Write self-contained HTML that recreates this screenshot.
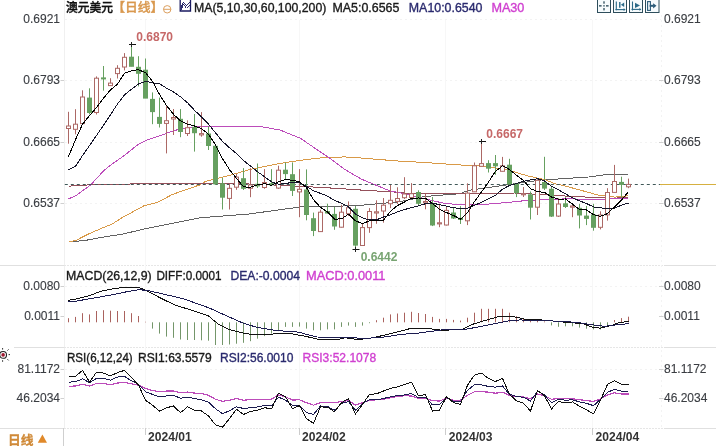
<!DOCTYPE html>
<html><head><meta charset="utf-8">
<style>
html,body{margin:0;padding:0;background:#fff;width:716px;height:446px;overflow:hidden}
svg{display:block}
polyline{shape-rendering:crispEdges}
text{font-family:"Liberation Sans", "Noto Sans CJK SC", sans-serif}
</style></head><body>
<svg width="716" height="446" viewBox="0 0 716 446">
<rect width="716" height="446" fill="#fff"/>
<!-- frame lines -->
<g stroke="#f0f0f0" stroke-width="1" fill="none">
<line x1="64.5" y1="0" x2="64.5" y2="428"/>
</g>
<g stroke="#e0e0e0" stroke-width="1" fill="none">
<line x1="0" y1="265.5" x2="64" y2="265.5"/>
<line x1="14" y1="347.5" x2="64" y2="347.5"/>
<line x1="0" y1="428.5" x2="64" y2="428.5"/>
<line x1="63.5" y1="428" x2="63.5" y2="446" stroke="#cfcfcf"/>
<line x1="664" y1="265.5" x2="716" y2="265.5"/>
<line x1="664" y1="347.5" x2="716" y2="347.5"/>
<line x1="664" y1="428.5" x2="716" y2="428.5"/>
</g>
<g stroke="#e6e6e6" stroke-width="1" fill="none" stroke-dasharray="2,1">
<line x1="64" y1="265.5" x2="664" y2="265.5"/>
<line x1="64" y1="347.5" x2="664" y2="347.5"/>
<line x1="64" y1="428.5" x2="664" y2="428.5"/>
</g>
<g stroke="#f3f3f3" stroke-width="1" fill="none" stroke-dasharray="2,3">
<line x1="661.5" y1="15" x2="661.5" y2="428"/>
<line x1="65" y1="19.5" x2="661" y2="19.5"/>
<line x1="65" y1="80.5" x2="661" y2="80.5"/>
<line x1="65" y1="142.5" x2="661" y2="142.5"/>
<line x1="65" y1="203.5" x2="661" y2="203.5"/>
<line x1="65" y1="286.5" x2="661" y2="286.5"/>
<line x1="65" y1="369.5" x2="661" y2="369.5"/>
</g>
<g stroke="#f7f7f7" stroke-width="1">
<line x1="145.5" y1="20" x2="145.5" y2="428"/>
<line x1="299.5" y1="20" x2="299.5" y2="428"/>
<line x1="445.5" y1="20" x2="445.5" y2="428"/>
<line x1="592.5" y1="20" x2="592.5" y2="428"/>
</g>
<g stroke="#d0d0d0" stroke-width="1">
<line x1="60.5" y1="80.5" x2="64" y2="80.5"/><line x1="659" y1="80.5" x2="663.5" y2="80.5"/>
<line x1="60.5" y1="142.5" x2="64" y2="142.5"/><line x1="659" y1="142.5" x2="663.5" y2="142.5"/>
<line x1="60.5" y1="203.5" x2="64" y2="203.5"/><line x1="659" y1="203.5" x2="663.5" y2="203.5"/>
<line x1="60.5" y1="286.5" x2="64" y2="286.5"/><line x1="659" y1="286.5" x2="663.5" y2="286.5"/>
<line x1="60.5" y1="316.5" x2="64" y2="316.5"/><line x1="659" y1="316.5" x2="663.5" y2="316.5"/>
<line x1="60.5" y1="369.5" x2="64" y2="369.5"/><line x1="659" y1="369.5" x2="663.5" y2="369.5"/>
<line x1="60.5" y1="398.5" x2="64" y2="398.5"/><line x1="659" y1="398.5" x2="663.5" y2="398.5"/>
</g>
<!-- main MAs -->
<polyline points="68.7,241.7 84.4,240.6 97.9,238.1 111.3,235.8 122.0,234.3 144.0,229.0 200.0,217.8 250.0,213.9 265.0,211.8 300.0,207.0 356.8,205.7 400.0,201.7 424.6,196.5 460.0,193.7 468.4,190.4 515.0,183.7 543.0,179.8 555.0,179.2 588.6,177.0 604.5,174.8 628.5,174.4" fill="none" stroke="#626262" stroke-width="1"/>
<polyline points="68.7,241.7 75.5,240.6 88.9,233.8 102.4,228.0 112.2,224.0 122.0,217.7 144.0,205.8 158.0,202.2 172.0,194.6 200.0,184.8 205.0,181.6 227.4,176.0 250.0,169.5 260.0,167.4 280.2,163.4 300.3,160.3 320.5,157.9 344.7,156.9 364.9,158.3 389.1,160.3 400.0,161.2 422.4,162.3 455.0,164.7 477.4,165.8 505.0,169.1 527.4,175.8 545.3,179.8 555.0,183.7 565.0,186.0 577.4,189.3 599.8,195.5 615.0,197.1 628.5,195.8" fill="none" stroke="#d99a48" stroke-width="1"/>
<polyline points="68.5,186.2 78.7,185.4 99.6,184.4 128.0,184.3 135.0,183.4 200.0,183.3 230.0,183.5 260.0,184.3 306.4,186.6 340.7,188.6 368.9,190.6 389.1,191.6 410.0,193.4 460.0,193.7 515.0,193.0 540.0,194.5 565.0,196.0 595.0,197.5 615.0,198.2 628.5,197.0" fill="none" stroke="#94505a" stroke-width="1"/>
<polyline points="68.5,198.8 75.4,196.0 90.8,184.8 103.5,171.0 110.4,165.2 124.4,155.4 138.4,144.2 146.8,140.0 162.0,135.0 174.5,130.4 187.3,127.9 198.0,126.4 215.0,126.2 240.0,126.3 260.0,126.4 280.2,130.1 300.3,138.2 316.5,149.3 330.6,158.7 344.7,169.4 360.9,178.9 377.0,185.6 389.1,190.6 401.5,193.1 422.4,198.1 433.6,201.0 444.8,203.3 460.0,204.8 477.4,205.0 505.0,202.7 527.4,200.4 565.0,198.9 595.0,199.2 628.5,198.7" fill="none" stroke="#bc4cba" stroke-width="1"/>
<line x1="64.8" y1="184.5" x2="661" y2="184.5" stroke="#405858" stroke-width="1" stroke-dasharray="3,3"/>
<line x1="660" y1="184.5" x2="716" y2="184.5" stroke="#d6b040" stroke-width="1.2"/>
<line x1="68.5" y1="111.8" x2="68.5" y2="143.7" stroke="#ac6865" stroke-width="1"/>
<rect x="66.5" y="126.0" width="4" height="2.5" fill="#fff" stroke="#ac6865" stroke-width="1"/>
<line x1="75.5" y1="109.2" x2="75.5" y2="134.3" stroke="#ac6865" stroke-width="1"/>
<rect x="73.5" y="124.2" width="4" height="5.1" fill="#fff" stroke="#ac6865" stroke-width="1"/>
<line x1="82.5" y1="90.3" x2="82.5" y2="123.6" stroke="#ac6865" stroke-width="1"/>
<rect x="80.5" y="97.0" width="4" height="26.6" fill="#fff" stroke="#ac6865" stroke-width="1"/>
<line x1="89.5" y1="88.3" x2="89.5" y2="114.3" stroke="#66a060" stroke-width="1"/>
<rect x="87" y="97.6" width="5" height="15.4" fill="#66a060"/>
<line x1="96.5" y1="76.4" x2="96.5" y2="114.5" stroke="#ac6865" stroke-width="1"/>
<rect x="94.5" y="78.2" width="4" height="34.3" fill="#fff" stroke="#ac6865" stroke-width="1"/>
<line x1="103.5" y1="66.0" x2="103.5" y2="90.7" stroke="#66a060" stroke-width="1"/>
<rect x="101" y="77.4" width="5" height="2.0" fill="#66a060"/>
<line x1="110.5" y1="78.2" x2="110.5" y2="85.6" stroke="#ac6865" stroke-width="1"/>
<rect x="108.5" y="83.1" width="4" height="2.5" fill="#fff" stroke="#ac6865" stroke-width="1"/>
<line x1="117.5" y1="65.2" x2="117.5" y2="78.5" stroke="#ac6865" stroke-width="1"/>
<rect x="115.5" y="68.3" width="4" height="5.3" fill="#fff" stroke="#ac6865" stroke-width="1"/>
<line x1="124.5" y1="53.1" x2="124.5" y2="70.4" stroke="#ac6865" stroke-width="1"/>
<rect x="122.5" y="57.3" width="4" height="9.7" fill="#fff" stroke="#ac6865" stroke-width="1"/>
<line x1="131.5" y1="44.4" x2="131.5" y2="66.3" stroke="#66a060" stroke-width="1"/>
<rect x="129" y="56.7" width="5" height="10.1" fill="#66a060"/>
<line x1="138.5" y1="56.2" x2="138.5" y2="86.4" stroke="#66a060" stroke-width="1"/>
<rect x="136" y="66.8" width="5" height="7.0" fill="#66a060"/>
<line x1="145.5" y1="58.5" x2="145.5" y2="98.1" stroke="#66a060" stroke-width="1"/>
<rect x="143" y="69.7" width="5" height="28.9" fill="#66a060"/>
<line x1="152.5" y1="92.4" x2="152.5" y2="124.2" stroke="#66a060" stroke-width="1"/>
<rect x="150" y="98.9" width="5" height="13.2" fill="#66a060"/>
<line x1="159.5" y1="97.6" x2="159.5" y2="127.5" stroke="#66a060" stroke-width="1"/>
<rect x="157" y="116.9" width="5" height="7.0" fill="#66a060"/>
<line x1="166.5" y1="106.0" x2="166.5" y2="153.4" stroke="#ac6865" stroke-width="1"/>
<rect x="164.5" y="120.7" width="4" height="2.7" fill="#fff" stroke="#ac6865" stroke-width="1"/>
<line x1="173.5" y1="109.0" x2="173.5" y2="135.0" stroke="#ac6865" stroke-width="1"/>
<rect x="171.5" y="117.5" width="4" height="1.5" fill="#fff" stroke="#ac6865" stroke-width="1"/>
<line x1="180.5" y1="109.0" x2="180.5" y2="137.2" stroke="#66a060" stroke-width="1"/>
<rect x="178" y="118.8" width="5" height="13.2" fill="#66a060"/>
<line x1="187.5" y1="120.3" x2="187.5" y2="136.0" stroke="#ac6865" stroke-width="1"/>
<rect x="185.5" y="127.7" width="4" height="5.8" fill="#fff" stroke="#ac6865" stroke-width="1"/>
<line x1="194.5" y1="114.0" x2="194.5" y2="151.6" stroke="#66a060" stroke-width="1"/>
<rect x="192" y="126.8" width="5" height="6.4" fill="#66a060"/>
<line x1="201.5" y1="112.1" x2="201.5" y2="136.7" stroke="#ac6865" stroke-width="1"/>
<rect x="199.5" y="133.6" width="4" height="1.3" fill="#fff" stroke="#ac6865" stroke-width="1"/>
<line x1="208.5" y1="126.4" x2="208.5" y2="150.0" stroke="#66a060" stroke-width="1"/>
<rect x="206" y="133.5" width="5" height="12.5" fill="#66a060"/>
<line x1="215.5" y1="145.0" x2="215.5" y2="185.0" stroke="#66a060" stroke-width="1"/>
<rect x="213" y="145.8" width="5" height="38.5" fill="#66a060"/>
<line x1="222.5" y1="177.8" x2="222.5" y2="209.5" stroke="#66a060" stroke-width="1"/>
<rect x="220" y="183.3" width="5" height="14.4" fill="#66a060"/>
<line x1="229.5" y1="183.8" x2="229.5" y2="209.5" stroke="#ac6865" stroke-width="1"/>
<rect x="227.5" y="188.3" width="4" height="10.1" fill="#fff" stroke="#ac6865" stroke-width="1"/>
<line x1="236.5" y1="173.7" x2="236.5" y2="189.8" stroke="#ac6865" stroke-width="1"/>
<rect x="234.5" y="177.1" width="4" height="10.1" fill="#fff" stroke="#ac6865" stroke-width="1"/>
<line x1="243.5" y1="168.1" x2="243.5" y2="190.0" stroke="#66a060" stroke-width="1"/>
<rect x="241" y="178.2" width="5" height="10.6" fill="#66a060"/>
<line x1="250.5" y1="168.1" x2="250.5" y2="197.2" stroke="#ac6865" stroke-width="1"/>
<rect x="248.5" y="184.9" width="4" height="3.4" fill="#fff" stroke="#ac6865" stroke-width="1"/>
<line x1="257.5" y1="163.5" x2="257.5" y2="188.0" stroke="#66a060" stroke-width="1"/>
<rect x="255" y="183.8" width="5" height="2.6" fill="#66a060"/>
<line x1="264.5" y1="169.1" x2="264.5" y2="188.8" stroke="#ac6865" stroke-width="1"/>
<rect x="262.5" y="182.5" width="4" height="5.0" fill="#fff" stroke="#ac6865" stroke-width="1"/>
<line x1="271.5" y1="169.1" x2="271.5" y2="186.0" stroke="#66a060" stroke-width="1"/>
<rect x="269" y="183.2" width="5" height="2.1" fill="#66a060"/>
<line x1="278.5" y1="165.7" x2="278.5" y2="189.0" stroke="#ac6865" stroke-width="1"/>
<rect x="276.5" y="170.2" width="4" height="17.9" fill="#fff" stroke="#ac6865" stroke-width="1"/>
<line x1="285.5" y1="162.4" x2="285.5" y2="179.2" stroke="#66a060" stroke-width="1"/>
<rect x="283" y="169.7" width="5" height="4.4" fill="#66a060"/>
<line x1="292.5" y1="162.4" x2="292.5" y2="196.0" stroke="#66a060" stroke-width="1"/>
<rect x="290" y="174.2" width="5" height="16.7" fill="#66a060"/>
<line x1="299.5" y1="169.1" x2="299.5" y2="217.2" stroke="#ac6865" stroke-width="1"/>
<rect x="297.5" y="189.3" width="4" height="2.6" fill="#fff" stroke="#ac6865" stroke-width="1"/>
<line x1="306.5" y1="169.4" x2="306.5" y2="220.3" stroke="#66a060" stroke-width="1"/>
<rect x="304" y="189.5" width="5" height="25.5" fill="#66a060"/>
<line x1="313.5" y1="212.6" x2="313.5" y2="236.1" stroke="#66a060" stroke-width="1"/>
<rect x="311" y="218.2" width="5" height="12.8" fill="#66a060"/>
<line x1="320.5" y1="209.7" x2="320.5" y2="232.0" stroke="#ac6865" stroke-width="1"/>
<rect x="318.5" y="212.2" width="4" height="19.4" fill="#fff" stroke="#ac6865" stroke-width="1"/>
<line x1="327.5" y1="203.7" x2="327.5" y2="213.5" stroke="#66a060" stroke-width="1"/>
<rect x="325" y="211.0" width="5" height="2.5" fill="#66a060"/>
<line x1="334.5" y1="207.0" x2="334.5" y2="229.8" stroke="#66a060" stroke-width="1"/>
<rect x="332" y="213.9" width="5" height="12.6" fill="#66a060"/>
<line x1="341.5" y1="204.8" x2="341.5" y2="227.5" stroke="#ac6865" stroke-width="1"/>
<rect x="339.5" y="212.2" width="4" height="15.0" fill="#fff" stroke="#ac6865" stroke-width="1"/>
<line x1="348.5" y1="201.4" x2="348.5" y2="216.0" stroke="#ac6865" stroke-width="1"/>
<rect x="346.5" y="207.7" width="4" height="6.0" fill="#fff" stroke="#ac6865" stroke-width="1"/>
<line x1="355.5" y1="206.0" x2="355.5" y2="249.1" stroke="#66a060" stroke-width="1"/>
<rect x="353" y="208.8" width="5" height="36.8" fill="#66a060"/>
<line x1="362.5" y1="223.8" x2="362.5" y2="246.0" stroke="#ac6865" stroke-width="1"/>
<rect x="360.5" y="227.6" width="4" height="17.9" fill="#fff" stroke="#ac6865" stroke-width="1"/>
<line x1="369.5" y1="208.1" x2="369.5" y2="232.8" stroke="#ac6865" stroke-width="1"/>
<rect x="367.5" y="211.5" width="4" height="16.1" fill="#fff" stroke="#ac6865" stroke-width="1"/>
<line x1="376.5" y1="200.3" x2="376.5" y2="223.8" stroke="#ac6865" stroke-width="1"/>
<rect x="374.5" y="211.8" width="4" height="1.2" fill="#fff" stroke="#ac6865" stroke-width="1"/>
<line x1="383.5" y1="198.0" x2="383.5" y2="222.7" stroke="#ac6865" stroke-width="1"/>
<rect x="381.5" y="205.2" width="4" height="5.8" fill="#fff" stroke="#ac6865" stroke-width="1"/>
<line x1="390.5" y1="185.0" x2="390.5" y2="208.1" stroke="#ac6865" stroke-width="1"/>
<rect x="388.5" y="200.3" width="4" height="3.4" fill="#fff" stroke="#ac6865" stroke-width="1"/>
<line x1="397.5" y1="187.3" x2="397.5" y2="204.0" stroke="#ac6865" stroke-width="1"/>
<rect x="395.5" y="198.5" width="4" height="2.9" fill="#fff" stroke="#ac6865" stroke-width="1"/>
<line x1="404.5" y1="177.2" x2="404.5" y2="199.0" stroke="#ac6865" stroke-width="1"/>
<rect x="402.5" y="194.0" width="4" height="3.7" fill="#fff" stroke="#ac6865" stroke-width="1"/>
<line x1="411.5" y1="183.1" x2="411.5" y2="198.0" stroke="#ac6865" stroke-width="1"/>
<rect x="409.5" y="193.7" width="4" height="3.8" fill="#fff" stroke="#ac6865" stroke-width="1"/>
<line x1="418.5" y1="190.3" x2="418.5" y2="206.0" stroke="#66a060" stroke-width="1"/>
<rect x="416" y="192.0" width="5" height="11.8" fill="#66a060"/>
<line x1="425.5" y1="193.7" x2="425.5" y2="209.3" stroke="#ac6865" stroke-width="1"/>
<rect x="423.5" y="201.5" width="4" height="1.3" fill="#fff" stroke="#ac6865" stroke-width="1"/>
<line x1="432.5" y1="197.0" x2="432.5" y2="226.1" stroke="#66a060" stroke-width="1"/>
<rect x="430" y="203.2" width="5" height="22.3" fill="#66a060"/>
<line x1="439.5" y1="203.7" x2="439.5" y2="227.2" stroke="#ac6865" stroke-width="1"/>
<rect x="437.5" y="222.8" width="4" height="1.1" fill="#fff" stroke="#ac6865" stroke-width="1"/>
<line x1="446.5" y1="206.0" x2="446.5" y2="225.5" stroke="#ac6865" stroke-width="1"/>
<rect x="444.5" y="210.4" width="4" height="14.6" fill="#fff" stroke="#ac6865" stroke-width="1"/>
<line x1="453.5" y1="207.1" x2="453.5" y2="219.0" stroke="#66a060" stroke-width="1"/>
<rect x="451" y="212.5" width="5" height="6.0" fill="#66a060"/>
<line x1="460.5" y1="206.1" x2="460.5" y2="224.0" stroke="#66a060" stroke-width="1"/>
<rect x="458" y="217.8" width="5" height="2.2" fill="#66a060"/>
<line x1="467.5" y1="183.3" x2="467.5" y2="225.1" stroke="#ac6865" stroke-width="1"/>
<rect x="465.5" y="193.1" width="4" height="27.7" fill="#fff" stroke="#ac6865" stroke-width="1"/>
<line x1="474.5" y1="162.5" x2="474.5" y2="192.0" stroke="#ac6865" stroke-width="1"/>
<rect x="472.5" y="165.8" width="4" height="26.0" fill="#fff" stroke="#ac6865" stroke-width="1"/>
<line x1="481.5" y1="141.4" x2="481.5" y2="166.5" stroke="#ac6865" stroke-width="1"/>
<rect x="479.5" y="163.6" width="4" height="2.7" fill="#fff" stroke="#ac6865" stroke-width="1"/>
<line x1="488.5" y1="160.2" x2="488.5" y2="172.5" stroke="#66a060" stroke-width="1"/>
<rect x="486" y="163.1" width="5" height="5.6" fill="#66a060"/>
<line x1="495.5" y1="155.0" x2="495.5" y2="174.8" stroke="#66a060" stroke-width="1"/>
<rect x="493" y="163.1" width="5" height="3.2" fill="#66a060"/>
<line x1="502.5" y1="156.9" x2="502.5" y2="171.5" stroke="#ac6865" stroke-width="1"/>
<rect x="500.5" y="165.8" width="4" height="5.5" fill="#fff" stroke="#ac6865" stroke-width="1"/>
<line x1="509.5" y1="158.8" x2="509.5" y2="184.8" stroke="#66a060" stroke-width="1"/>
<rect x="507" y="164.7" width="5" height="19.8" fill="#66a060"/>
<line x1="516.5" y1="183.0" x2="516.5" y2="197.1" stroke="#66a060" stroke-width="1"/>
<rect x="514" y="183.2" width="5" height="9.9" fill="#66a060"/>
<line x1="523.5" y1="187.0" x2="523.5" y2="197.0" stroke="#ac6865" stroke-width="1"/>
<rect x="521.5" y="193.7" width="4" height="1.1" fill="#fff" stroke="#ac6865" stroke-width="1"/>
<line x1="530.5" y1="191.5" x2="530.5" y2="219.5" stroke="#66a060" stroke-width="1"/>
<rect x="528" y="194.3" width="5" height="13.4" fill="#66a060"/>
<line x1="537.5" y1="179.2" x2="537.5" y2="215.0" stroke="#ac6865" stroke-width="1"/>
<rect x="535.5" y="180.3" width="4" height="26.9" fill="#fff" stroke="#ac6865" stroke-width="1"/>
<line x1="544.5" y1="156.8" x2="544.5" y2="190.0" stroke="#66a060" stroke-width="1"/>
<rect x="542" y="182.0" width="5" height="6.6" fill="#66a060"/>
<line x1="551.5" y1="187.0" x2="551.5" y2="217.0" stroke="#66a060" stroke-width="1"/>
<rect x="549" y="188.8" width="5" height="27.8" fill="#66a060"/>
<line x1="558.5" y1="198.2" x2="558.5" y2="217.0" stroke="#ac6865" stroke-width="1"/>
<rect x="556.5" y="204.0" width="4" height="12.1" fill="#fff" stroke="#ac6865" stroke-width="1"/>
<line x1="565.5" y1="197.1" x2="565.5" y2="208.0" stroke="#66a060" stroke-width="1"/>
<rect x="563" y="203.3" width="5" height="3.7" fill="#66a060"/>
<line x1="572.5" y1="204.9" x2="572.5" y2="217.2" stroke="#ac6865" stroke-width="1"/>
<rect x="570.5" y="206.0" width="4" height="1.2" fill="#fff" stroke="#ac6865" stroke-width="1"/>
<line x1="579.5" y1="203.8" x2="579.5" y2="228.4" stroke="#66a060" stroke-width="1"/>
<rect x="577" y="207.8" width="5" height="7.7" fill="#66a060"/>
<line x1="586.5" y1="206.0" x2="586.5" y2="225.1" stroke="#66a060" stroke-width="1"/>
<rect x="584" y="215.6" width="5" height="3.3" fill="#66a060"/>
<line x1="593.5" y1="203.8" x2="593.5" y2="230.7" stroke="#66a060" stroke-width="1"/>
<rect x="591" y="214.5" width="5" height="13.3" fill="#66a060"/>
<line x1="600.5" y1="211.3" x2="600.5" y2="229.4" stroke="#ac6865" stroke-width="1"/>
<rect x="598.5" y="215.0" width="4" height="12.3" fill="#fff" stroke="#ac6865" stroke-width="1"/>
<line x1="607.5" y1="188.2" x2="607.5" y2="220.6" stroke="#ac6865" stroke-width="1"/>
<rect x="605.5" y="192.5" width="4" height="22.4" fill="#fff" stroke="#ac6865" stroke-width="1"/>
<line x1="614.5" y1="164.9" x2="614.5" y2="192.6" stroke="#ac6865" stroke-width="1"/>
<rect x="612.5" y="181.5" width="4" height="10.9" fill="#fff" stroke="#ac6865" stroke-width="1"/>
<line x1="621.5" y1="176.7" x2="621.5" y2="197.7" stroke="#66a060" stroke-width="1"/>
<rect x="619" y="181.9" width="5" height="3.0" fill="#66a060"/>
<line x1="628.5" y1="178.6" x2="628.5" y2="188.2" stroke="#ac6865" stroke-width="1"/>
<rect x="626.5" y="184.4" width="4" height="2.4" fill="#fff" stroke="#ac6865" stroke-width="1"/>
<polyline points="68.5,170.0 75.5,166.2 82.5,155.6 89.5,145.6 96.5,135.5 103.5,125.2 110.5,114.7 117.5,104.0 124.5,95.0 131.5,89.2 138.5,83.9 145.5,81.3 152.5,82.7 159.5,83.8 166.5,88.1 173.5,92.0 180.5,96.8 187.5,102.7 194.5,110.3 201.5,117.0 208.5,124.2 215.5,132.8 222.5,141.4 229.5,147.8 236.5,153.5 243.5,160.6 250.5,165.9 257.5,171.7 264.5,176.7 271.5,181.8 278.5,184.3 285.5,183.3 292.5,182.6 299.5,182.7 306.5,186.4 313.5,190.7 320.5,193.4 327.5,196.1 334.5,200.4 341.5,203.2 348.5,206.9 355.5,214.1 362.5,217.8 369.5,220.0 376.5,219.8 383.5,217.0 390.5,214.8 397.5,211.8 404.5,209.6 411.5,207.6 418.5,205.8 425.5,203.7 432.5,203.2 439.5,204.6 446.5,206.2 453.5,207.8 460.5,208.5 467.5,208.1 474.5,205.3 481.5,202.3 488.5,198.8 495.5,195.2 502.5,189.3 509.5,185.4 516.5,183.6 523.5,181.2 530.5,180.0 537.5,178.7 544.5,180.9 551.5,186.2 558.5,189.8 565.5,193.8 572.5,197.8 579.5,200.9 586.5,203.5 593.5,206.9 600.5,207.7 607.5,208.9 614.5,208.2 621.5,205.1 628.5,203.1" fill="none" stroke="#15152a" stroke-width="1"/>
<polyline points="68.5,156.6 75.5,139.6 82.5,124.3 89.5,115.6 96.5,107.6 103.5,98.1 110.5,89.9 117.5,84.1 124.5,73.1 131.5,70.7 138.5,69.7 145.5,72.7 152.5,81.3 159.5,94.5 166.5,105.4 173.5,114.3 180.5,120.9 187.5,124.2 194.5,126.0 201.5,128.6 208.5,134.2 215.5,144.7 222.5,158.6 229.5,169.7 236.5,178.4 243.5,186.9 250.5,187.2 257.5,184.9 264.5,183.7 271.5,185.3 278.5,181.7 285.5,179.4 292.5,180.3 299.5,181.7 306.5,187.6 313.5,199.7 320.5,207.4 327.5,211.9 334.5,219.2 341.5,218.8 348.5,214.2 355.5,220.8 362.5,223.7 369.5,220.8 376.5,220.7 383.5,220.2 390.5,211.3 397.5,205.5 404.5,202.0 411.5,198.3 418.5,198.0 425.5,198.2 432.5,203.5 439.5,209.3 446.5,212.6 453.5,215.5 460.5,219.1 467.5,212.8 474.5,201.4 481.5,192.0 488.5,182.0 495.5,171.3 502.5,165.8 509.5,169.5 516.5,175.3 523.5,180.4 530.5,188.7 537.5,191.6 544.5,192.4 551.5,197.1 558.5,199.1 565.5,199.0 572.5,204.1 579.5,209.5 586.5,210.0 593.5,214.6 600.5,216.3 607.5,213.6 614.5,206.9 621.5,200.1 628.5,191.6" fill="none" stroke="#000" stroke-width="1"/>
<!-- high/low markers -->
<line x1="129" y1="44.5" x2="136" y2="44.5" stroke="#111" stroke-width="1"/>
<text x="136.3" y="41" font-size="12" font-weight="bold" fill="#c66868">0.6870</text>
<line x1="131.5" y1="42" x2="131.5" y2="47" stroke="#222" stroke-width="1"/>
<line x1="479" y1="141.5" x2="486" y2="141.5" stroke="#111" stroke-width="1"/>
<text x="486.3" y="138" font-size="12" font-weight="bold" fill="#c66868">0.6667</text>
<line x1="481.5" y1="139" x2="481.5" y2="144" stroke="#222" stroke-width="1"/>
<line x1="352.5" y1="249.5" x2="359.5" y2="249.5" stroke="#111" stroke-width="1"/>
<text x="360.7" y="261" font-size="12" font-weight="bold" fill="#78a472">0.6442</text>
<line x1="355.5" y1="247" x2="355.5" y2="252" stroke="#222" stroke-width="1"/>
<!-- MACD -->
<line x1="68.5" y1="322.3" x2="68.5" y2="318.2" stroke="#aa625e" stroke-width="1"/>
<line x1="75.5" y1="322.3" x2="75.5" y2="316.9" stroke="#aa625e" stroke-width="1"/>
<line x1="82.5" y1="322.3" x2="82.5" y2="313.2" stroke="#aa625e" stroke-width="1"/>
<line x1="89.5" y1="322.3" x2="89.5" y2="314.4" stroke="#aa625e" stroke-width="1"/>
<line x1="96.5" y1="322.3" x2="96.5" y2="311.0" stroke="#aa625e" stroke-width="1"/>
<line x1="103.5" y1="322.3" x2="103.5" y2="310.2" stroke="#aa625e" stroke-width="1"/>
<line x1="110.5" y1="322.3" x2="110.5" y2="310.7" stroke="#aa625e" stroke-width="1"/>
<line x1="117.5" y1="322.3" x2="117.5" y2="311.0" stroke="#aa625e" stroke-width="1"/>
<line x1="124.5" y1="322.3" x2="124.5" y2="311.0" stroke="#aa625e" stroke-width="1"/>
<line x1="131.5" y1="322.3" x2="131.5" y2="313.2" stroke="#aa625e" stroke-width="1"/>
<line x1="138.5" y1="322.3" x2="138.5" y2="316.0" stroke="#aa625e" stroke-width="1"/>
<line x1="145.5" y1="322.3" x2="145.5" y2="321.8" stroke="#aa625e" stroke-width="1"/>
<line x1="152.5" y1="322.3" x2="152.5" y2="328.6" stroke="#74966a" stroke-width="1"/>
<line x1="159.5" y1="322.3" x2="159.5" y2="333.6" stroke="#74966a" stroke-width="1"/>
<line x1="166.5" y1="322.3" x2="166.5" y2="336.6" stroke="#74966a" stroke-width="1"/>
<line x1="173.5" y1="322.3" x2="173.5" y2="337.8" stroke="#74966a" stroke-width="1"/>
<line x1="180.5" y1="322.3" x2="180.5" y2="339.5" stroke="#74966a" stroke-width="1"/>
<line x1="187.5" y1="322.3" x2="187.5" y2="340.0" stroke="#74966a" stroke-width="1"/>
<line x1="194.5" y1="322.3" x2="194.5" y2="340.0" stroke="#74966a" stroke-width="1"/>
<line x1="201.5" y1="322.3" x2="201.5" y2="340.3" stroke="#74966a" stroke-width="1"/>
<line x1="208.5" y1="322.3" x2="208.5" y2="340.7" stroke="#74966a" stroke-width="1"/>
<line x1="215.5" y1="322.3" x2="215.5" y2="345" stroke="#74966a" stroke-width="1"/>
<line x1="222.5" y1="322.3" x2="222.5" y2="345" stroke="#74966a" stroke-width="1"/>
<line x1="229.5" y1="322.3" x2="229.5" y2="344.5" stroke="#74966a" stroke-width="1"/>
<line x1="236.5" y1="322.3" x2="236.5" y2="343.7" stroke="#74966a" stroke-width="1"/>
<line x1="243.5" y1="322.3" x2="243.5" y2="342.8" stroke="#74966a" stroke-width="1"/>
<line x1="250.5" y1="322.3" x2="250.5" y2="341.2" stroke="#74966a" stroke-width="1"/>
<line x1="257.5" y1="322.3" x2="257.5" y2="338.7" stroke="#74966a" stroke-width="1"/>
<line x1="264.5" y1="322.3" x2="264.5" y2="336.1" stroke="#74966a" stroke-width="1"/>
<line x1="271.5" y1="322.3" x2="271.5" y2="333.6" stroke="#74966a" stroke-width="1"/>
<line x1="278.5" y1="322.3" x2="278.5" y2="331.1" stroke="#74966a" stroke-width="1"/>
<line x1="285.5" y1="322.3" x2="285.5" y2="326.9" stroke="#74966a" stroke-width="1"/>
<line x1="292.5" y1="322.3" x2="292.5" y2="326.9" stroke="#74966a" stroke-width="1"/>
<line x1="299.5" y1="322.3" x2="299.5" y2="326.6" stroke="#74966a" stroke-width="1"/>
<line x1="306.5" y1="322.3" x2="306.5" y2="328.6" stroke="#74966a" stroke-width="1"/>
<line x1="313.5" y1="322.3" x2="313.5" y2="330.3" stroke="#74966a" stroke-width="1"/>
<line x1="320.5" y1="322.3" x2="320.5" y2="330.3" stroke="#74966a" stroke-width="1"/>
<line x1="327.5" y1="322.3" x2="327.5" y2="329.4" stroke="#74966a" stroke-width="1"/>
<line x1="334.5" y1="322.3" x2="334.5" y2="329.4" stroke="#74966a" stroke-width="1"/>
<line x1="341.5" y1="322.3" x2="341.5" y2="326.9" stroke="#74966a" stroke-width="1"/>
<line x1="348.5" y1="322.3" x2="348.5" y2="325.6" stroke="#74966a" stroke-width="1"/>
<line x1="355.5" y1="322.3" x2="355.5" y2="326.9" stroke="#74966a" stroke-width="1"/>
<line x1="362.5" y1="322.3" x2="362.5" y2="325.6" stroke="#74966a" stroke-width="1"/>
<line x1="369.5" y1="322.3" x2="369.5" y2="323.2" stroke="#74966a" stroke-width="1"/>
<line x1="376.5" y1="322.3" x2="376.5" y2="320.2" stroke="#aa625e" stroke-width="1"/>
<line x1="383.5" y1="322.3" x2="383.5" y2="317.7" stroke="#aa625e" stroke-width="1"/>
<line x1="390.5" y1="322.3" x2="390.5" y2="314.4" stroke="#aa625e" stroke-width="1"/>
<line x1="397.5" y1="322.3" x2="397.5" y2="313.5" stroke="#aa625e" stroke-width="1"/>
<line x1="404.5" y1="322.3" x2="404.5" y2="312.7" stroke="#aa625e" stroke-width="1"/>
<line x1="411.5" y1="322.3" x2="411.5" y2="311.8" stroke="#aa625e" stroke-width="1"/>
<line x1="418.5" y1="322.3" x2="418.5" y2="313.0" stroke="#aa625e" stroke-width="1"/>
<line x1="425.5" y1="322.3" x2="425.5" y2="314.0" stroke="#aa625e" stroke-width="1"/>
<line x1="432.5" y1="322.3" x2="432.5" y2="316.9" stroke="#aa625e" stroke-width="1"/>
<line x1="439.5" y1="322.3" x2="439.5" y2="318.9" stroke="#aa625e" stroke-width="1"/>
<line x1="446.5" y1="322.3" x2="446.5" y2="318.9" stroke="#aa625e" stroke-width="1"/>
<line x1="453.5" y1="322.3" x2="453.5" y2="319.9" stroke="#aa625e" stroke-width="1"/>
<line x1="460.5" y1="322.3" x2="460.5" y2="320.6" stroke="#aa625e" stroke-width="1"/>
<line x1="467.5" y1="322.3" x2="467.5" y2="317.7" stroke="#aa625e" stroke-width="1"/>
<line x1="474.5" y1="322.3" x2="474.5" y2="312.7" stroke="#aa625e" stroke-width="1"/>
<line x1="481.5" y1="322.3" x2="481.5" y2="308.8" stroke="#aa625e" stroke-width="1"/>
<line x1="488.5" y1="322.3" x2="488.5" y2="308.8" stroke="#aa625e" stroke-width="1"/>
<line x1="495.5" y1="322.3" x2="495.5" y2="308.8" stroke="#aa625e" stroke-width="1"/>
<line x1="502.5" y1="322.3" x2="502.5" y2="308.8" stroke="#aa625e" stroke-width="1"/>
<line x1="509.5" y1="322.3" x2="509.5" y2="312.7" stroke="#aa625e" stroke-width="1"/>
<line x1="516.5" y1="322.3" x2="516.5" y2="316.2" stroke="#aa625e" stroke-width="1"/>
<line x1="523.5" y1="322.3" x2="523.5" y2="318.1" stroke="#aa625e" stroke-width="1"/>
<line x1="530.5" y1="322.3" x2="530.5" y2="320.8" stroke="#aa625e" stroke-width="1"/>
<line x1="537.5" y1="322.3" x2="537.5" y2="319.0" stroke="#aa625e" stroke-width="1"/>
<line x1="544.5" y1="322.3" x2="544.5" y2="321.4" stroke="#aa625e" stroke-width="1"/>
<line x1="551.5" y1="322.3" x2="551.5" y2="325.4" stroke="#74966a" stroke-width="1"/>
<line x1="558.5" y1="322.3" x2="558.5" y2="326.8" stroke="#74966a" stroke-width="1"/>
<line x1="565.5" y1="322.3" x2="565.5" y2="326.3" stroke="#74966a" stroke-width="1"/>
<line x1="572.5" y1="322.3" x2="572.5" y2="326.3" stroke="#74966a" stroke-width="1"/>
<line x1="579.5" y1="322.3" x2="579.5" y2="327.6" stroke="#74966a" stroke-width="1"/>
<line x1="586.5" y1="322.3" x2="586.5" y2="328.7" stroke="#74966a" stroke-width="1"/>
<line x1="593.5" y1="322.3" x2="593.5" y2="329.4" stroke="#74966a" stroke-width="1"/>
<line x1="600.5" y1="322.3" x2="600.5" y2="329.4" stroke="#74966a" stroke-width="1"/>
<line x1="607.5" y1="322.3" x2="607.5" y2="325.4" stroke="#74966a" stroke-width="1"/>
<line x1="614.5" y1="322.3" x2="614.5" y2="320.0" stroke="#aa625e" stroke-width="1"/>
<line x1="621.5" y1="322.3" x2="621.5" y2="318.1" stroke="#aa625e" stroke-width="1"/>
<line x1="628.5" y1="322.3" x2="628.5" y2="316.7" stroke="#aa625e" stroke-width="1"/>
<polyline points="67.5,300.4 76.8,298.8 90.2,295.4 100.2,291.4 110.3,289.2 122.0,287.5 138.8,287.5 147.1,290.9 160.6,298.1 175.0,305.1 191.8,310.2 208.5,316.0 218.6,324.4 228.6,329.4 242.0,332.8 255.4,335.0 268.8,334.5 278.9,333.3 290.0,333.5 306.8,336.6 316.8,339.0 335.2,340.0 345.3,337.8 357.0,339.5 368.8,338.5 383.9,335.3 397.3,332.0 410.0,328.6 416.8,328.1 428.5,328.6 441.9,330.3 462.0,329.4 473.7,323.9 488.8,319.4 500.6,316.0 508.9,316.0 519.1,317.8 528.2,319.9 537.2,319.6 546.3,320.3 564.5,322.1 582.6,323.6 593.5,327.6 600.8,328.1 611.7,325.4 618.9,322.7 628.6,321.4" fill="none" stroke="#111" stroke-width="1"/>
<polyline points="67.5,302.1 76.8,301.0 93.5,298.1 110.3,295.1 127.0,291.7 138.8,289.7 147.1,290.4 160.6,293.4 175.0,296.8 185.0,299.3 208.5,307.7 225.3,315.2 242.0,322.7 255.4,326.9 268.8,329.4 278.9,330.8 290.0,331.3 300.0,332.3 306.8,334.5 316.8,337.0 333.6,337.3 350.3,337.8 367.1,338.3 383.9,337.0 397.3,335.0 410.0,333.6 416.8,333.3 441.9,329.9 462.0,329.9 473.7,327.8 488.8,324.9 507.3,321.1 520.0,319.9 528.2,320.3 546.3,320.8 564.5,321.4 582.6,323.2 593.5,325.0 604.4,326.3 615.3,325.0 628.6,323.6" fill="none" stroke="#1c1c50" stroke-width="1"/>
<!-- RSI -->
<polyline points="68.5,386.3 75.5,386.0 82.5,384.3 89.5,386.0 96.5,383.5 103.5,383.5 110.5,384.6 117.5,383.1 124.5,382.3 131.5,383.8 138.5,385.1 145.5,388.5 152.5,390.5 159.5,391.8 166.5,391.0 173.5,391.0 180.5,392.9 187.5,392.1 194.5,393.1 201.5,393.4 208.5,395.3 215.5,399.3 222.5,401.3 229.5,400.3 236.5,398.6 243.5,400.3 250.5,399.6 257.5,399.5 264.5,399.1 271.5,399.1 278.5,394.9 285.5,396.8 292.5,400.0 299.5,399.8 306.5,402.7 313.5,405.2 320.5,402.7 327.5,402.3 334.5,402.7 341.5,401.5 348.5,400.5 355.5,405.2 362.5,402.7 369.5,400.5 376.5,399.8 383.5,399.3 390.5,397.7 397.5,396.5 404.5,395.7 411.5,396.0 418.5,398.2 425.5,398.2 432.5,400.6 439.5,401.1 446.5,398.2 453.5,400.2 460.5,400.2 467.5,395.2 474.5,391.8 481.5,391.5 488.5,392.2 495.5,393.2 502.5,392.2 509.5,395.5 516.5,396.6 523.5,397.1 530.5,398.8 537.5,394.0 544.5,395.8 551.5,399.3 558.5,398.4 565.5,398.8 572.5,398.8 579.5,399.8 586.5,400.5 593.5,401.5 600.5,398.8 607.5,394.9 614.5,392.8 621.5,394.0 628.5,394.0" fill="none" stroke="#bc4cba" stroke-width="1.2"/>
<polyline points="68.5,382.1 75.5,381.8 82.5,378.8 89.5,382.6 96.5,378.4 103.5,378.4 110.5,380.1 117.5,377.1 124.5,376.4 131.5,380.9 138.5,384.3 145.5,391.8 152.5,394.4 159.5,396.9 166.5,396.0 173.5,395.2 180.5,398.3 187.5,397.2 194.5,398.5 201.5,399.8 208.5,402.2 215.5,408.7 222.5,413.8 229.5,410.7 236.5,406.8 243.5,408.5 250.5,407.7 257.5,407.0 264.5,405.5 271.5,405.8 278.5,397.2 285.5,400.1 292.5,405.6 299.5,405.5 306.5,412.7 313.5,414.4 320.5,406.0 327.5,406.5 334.5,410.2 341.5,403.5 348.5,401.5 355.5,410.2 362.5,403.5 369.5,399.8 376.5,399.8 383.5,398.5 390.5,396.8 397.5,395.5 404.5,395.0 411.5,393.5 418.5,397.7 425.5,397.2 432.5,404.9 439.5,404.4 446.5,397.7 453.5,401.6 460.5,401.6 467.5,390.2 474.5,384.8 481.5,384.8 488.5,386.5 495.5,387.1 502.5,386.0 509.5,394.4 516.5,396.3 523.5,397.3 530.5,401.0 537.5,391.4 544.5,394.9 551.5,402.8 558.5,399.3 565.5,400.2 572.5,399.8 579.5,401.9 586.5,403.3 593.5,405.7 600.5,399.3 607.5,392.3 614.5,389.3 621.5,391.1 628.5,391.4" fill="none" stroke="#1c1c50" stroke-width="1"/>
<polyline points="68.5,376.3 75.5,376.3 82.5,370.4 89.5,382.1 96.5,372.2 103.5,373.1 110.5,375.9 117.5,372.6 124.5,370.4 131.5,377.6 138.5,385.1 145.5,400.2 152.5,405.2 159.5,411.1 166.5,407.8 173.5,406.0 180.5,412.7 187.5,406.8 194.5,410.2 201.5,411.0 208.5,416.0 215.5,424.9 222.5,427.3 229.5,418.5 236.5,409.3 243.5,414.4 250.5,411.5 257.5,410.2 264.5,407.7 271.5,408.8 278.5,393.1 285.5,396.8 292.5,408.7 299.5,405.5 306.5,418.6 313.5,423.3 320.5,406.9 327.5,407.2 334.5,411.9 341.5,402.7 348.5,398.5 355.5,413.9 362.5,404.4 369.5,394.3 376.5,393.8 383.5,391.0 390.5,388.4 397.5,386.8 404.5,384.5 411.5,382.1 418.5,396.0 425.5,394.4 432.5,411.1 439.5,410.3 446.5,396.5 453.5,402.7 460.5,404.4 467.5,385.1 474.5,375.1 481.5,373.1 488.5,378.4 495.5,381.5 502.5,378.4 509.5,394.4 516.5,400.8 523.5,403.2 530.5,411.0 537.5,390.6 544.5,395.8 551.5,408.9 558.5,401.5 565.5,402.8 572.5,401.9 579.5,406.3 586.5,409.8 593.5,413.8 600.5,400.2 607.5,384.4 614.5,380.6 621.5,384.1 628.5,384.1" fill="none" stroke="#111" stroke-width="1"/>
<!-- axis labels -->
<g font-size="12" fill="#3a3d42" stroke="#3a3d42" stroke-width="0.12">
<text x="60" y="23" text-anchor="end">0.6921</text>
<text x="60" y="84" text-anchor="end">0.6793</text>
<text x="60" y="146" text-anchor="end">0.6665</text>
<text x="60" y="207" text-anchor="end">0.6537</text>
<text x="664" y="23">0.6921</text>
<text x="664" y="84">0.6793</text>
<text x="664" y="146">0.6665</text>
<text x="664" y="207">0.6537</text>
<text x="60" y="290" text-anchor="end">0.0080</text>
<text x="60" y="319.5" text-anchor="end">0.0011</text>
<text x="664" y="290">0.0080</text>
<text x="664" y="319.5">0.0011</text>
<text x="60" y="373" text-anchor="end">81.1172</text>
<text x="60" y="402" text-anchor="end">46.2034</text>
<text x="664" y="373">81.1172</text>
<text x="664" y="402">46.2034</text>
</g>
<!-- title -->
<g font-size="12.5">
<text x="66" y="12" fill="#111" stroke="#111" stroke-width="0.35" font-weight="500" textLength="47" lengthAdjust="spacingAndGlyphs">澳元美元</text>
<text x="112.3" y="12.3" fill="#d9984e" stroke="#d9984e" stroke-width="0.35" font-weight="500" textLength="51" lengthAdjust="spacingAndGlyphs">【日线】</text>
<text x="194" y="12" fill="#1a1a1a" stroke="#1a1a1a" stroke-width="0.35" textLength="132.3" lengthAdjust="spacingAndGlyphs">MA(5,10,30,60,100,200)</text>
<text x="332.4" y="12" fill="#1a1a1a" stroke="#1a1a1a" stroke-width="0.35" textLength="67" lengthAdjust="spacingAndGlyphs">MA5:0.6565</text>
<text x="408.8" y="12" fill="#2a2a6e" stroke="#2a2a6e" stroke-width="0.35" textLength="73.7" lengthAdjust="spacingAndGlyphs">MA10:0.6540</text>
<text x="491.4" y="12" fill="#d040d0" stroke="#d040d0" stroke-width="0.35" textLength="33" lengthAdjust="spacingAndGlyphs">MA30</text>
<text x="66.1" y="279.5" fill="#1a1a1a" stroke="#1a1a1a" stroke-width="0.35" textLength="85.5" lengthAdjust="spacingAndGlyphs">MACD(26,12,9)</text>
<text x="156.4" y="279.5" fill="#1a1a1a" stroke="#1a1a1a" stroke-width="0.35" textLength="65.1" lengthAdjust="spacingAndGlyphs">DIFF:0.0001</text>
<text x="230.4" y="279.5" fill="#2a2a6e" stroke="#2a2a6e" stroke-width="0.35" textLength="69.6" lengthAdjust="spacingAndGlyphs">DEA:-0.0004</text>
<text x="306" y="279.5" fill="#d040d0" stroke="#d040d0" stroke-width="0.35" textLength="79.5" lengthAdjust="spacingAndGlyphs">MACD:0.0011</text>
<text x="67" y="361.5" fill="#1a1a1a" stroke="#1a1a1a" stroke-width="0.35" textLength="65.7" lengthAdjust="spacingAndGlyphs">RSI(6,12,24)</text>
<text x="138" y="361.5" fill="#1a1a1a" stroke="#1a1a1a" stroke-width="0.35" textLength="73.7" lengthAdjust="spacingAndGlyphs">RSI1:63.5579</text>
<text x="220" y="361.5" fill="#2a2a6e" stroke="#2a2a6e" stroke-width="0.35" textLength="73.4" lengthAdjust="spacingAndGlyphs">RSI2:56.0010</text>
<text x="302.5" y="361.5" fill="#d040d0" stroke="#d040d0" stroke-width="0.35" textLength="73.7" lengthAdjust="spacingAndGlyphs">RSI3:52.1078</text>
</g>
<!-- title icons -->
<circle cx="167.2" cy="9.3" r="3.7" fill="none" stroke="#dca060" stroke-width="1"/>
<line x1="163.5" y1="9.3" x2="170.9" y2="9.3" stroke="#dca060" stroke-width="1"/>
<g fill="none" stroke="#1a1a60">
<path d="M180.2,0 V11 H190.5 V0" stroke-width="1.3"/>
<polyline points="180.8,8.4 183.4,2.0 186.5,6.0 189.9,2.4" stroke-width="0.9"/>
<polyline points="180.8,10.8 183.4,4.4 186.5,8.4 189.9,4.8" stroke-width="0.9"/>
</g>
<!-- right toolbar icons -->
<g stroke="#2e4e5c" stroke-width="1" fill="#f6fbfd">
<rect x="597.5" y="-1" width="13" height="13.5"/>
<rect x="613.5" y="-1" width="13" height="13.5"/>
<rect x="629.5" y="-1" width="13" height="13.5"/>
<rect x="645.5" y="-1" width="13.5" height="13.5"/>
</g>
<g fill="#3a5866">
<rect x="603.3" y="1.3" width="1.4" height="2.4"/>
<rect x="603.3" y="5.1" width="1.4" height="1.5"/>
<rect x="603.3" y="8.0" width="1.4" height="2.4"/>
<rect x="599.0" y="5.1" width="2.6" height="1.5"/>
<rect x="606.0" y="5.1" width="2.6" height="1.5"/>
</g>
<g stroke="#2a6a88" stroke-width="1.1" fill="#2a6a88">
<line x1="616.3" y1="1.5" x2="616.3" y2="10.2" fill="none"/>
<line x1="615.4" y1="9.6" x2="625" y2="9.6" fill="none"/>
<line x1="619.8" y1="2" x2="619.8" y2="7.8" fill="none" stroke-width="1.4"/>
<polygon points="624.2,2.6 624.2,7.0 620.9,4.8" stroke="none"/>
<polygon points="625.6,9.6 623.6,8.3 623.6,10.9" stroke="none"/>
<line x1="632.5" y1="1.5" x2="632.5" y2="10.5" fill="none"/>
<line x1="631.5" y1="9.4" x2="640.6" y2="9.4" fill="none"/>
<polygon points="635,2.8 635,8 640,5.4" stroke="none"/>
<polygon points="641.4,9.4 639.4,8.1 639.4,10.7" stroke="none"/>
<rect x="647.6" y="1.6" width="2.8" height="8.8" fill="none" stroke="#2a5a78"/>
<rect x="649.6" y="4.8" width="4" height="2" stroke="none" fill="#2a5a78"/>
<polygon points="653.1,3.2 653.1,8.4 656.5,5.8" stroke="none" fill="#2a5a78"/>
</g>
<!-- RSI sun icon -->
<circle cx="3.1" cy="354.9" r="3.4" fill="none" stroke="#222" stroke-width="1.1"/>
<circle cx="3.1" cy="354.9" r="1.8" fill="#a01830"/>
<g stroke="#333" stroke-width="1">
<line x1="2.6" y1="348" x2="2.6" y2="349.6"/>
<line x1="2.6" y1="360.2" x2="2.6" y2="361.8"/>
<line x1="8.6" y1="354.6" x2="10" y2="354.6"/>
<line x1="7.4" y1="350.6" x2="8.6" y2="349.4"/>
<line x1="7.4" y1="359.2" x2="8.6" y2="360.4"/>
</g>
<!-- date axis -->
<g font-size="12.5" font-weight="bold" fill="#333">
<text x="148" y="441.2" textLength="43.7" lengthAdjust="spacingAndGlyphs">2024/01</text>
<text x="302" y="441.2" textLength="43.7" lengthAdjust="spacingAndGlyphs">2024/02</text>
<text x="448.8" y="441.2" textLength="43.7" lengthAdjust="spacingAndGlyphs">2024/03</text>
<text x="595.5" y="441.2" textLength="43.7" lengthAdjust="spacingAndGlyphs">2024/04</text>
</g>
<g stroke="#ccc" stroke-width="1">
<line x1="145.5" y1="428" x2="145.5" y2="435"/>
<line x1="299.5" y1="428" x2="299.5" y2="435"/>
<line x1="445.5" y1="428" x2="445.5" y2="435"/>
<line x1="592.5" y1="428" x2="592.5" y2="435"/>
</g>
<text x="8" y="445" font-size="12.5" fill="#d08a38" stroke="#d08a38" stroke-width="0.3" font-weight="bold" textLength="25.5" lengthAdjust="spacingAndGlyphs">日线</text>
<polygon points="37.8,442.8 42.4,434.6 47,442.8" fill="#e0892a"/>
</svg>
</body></html>
